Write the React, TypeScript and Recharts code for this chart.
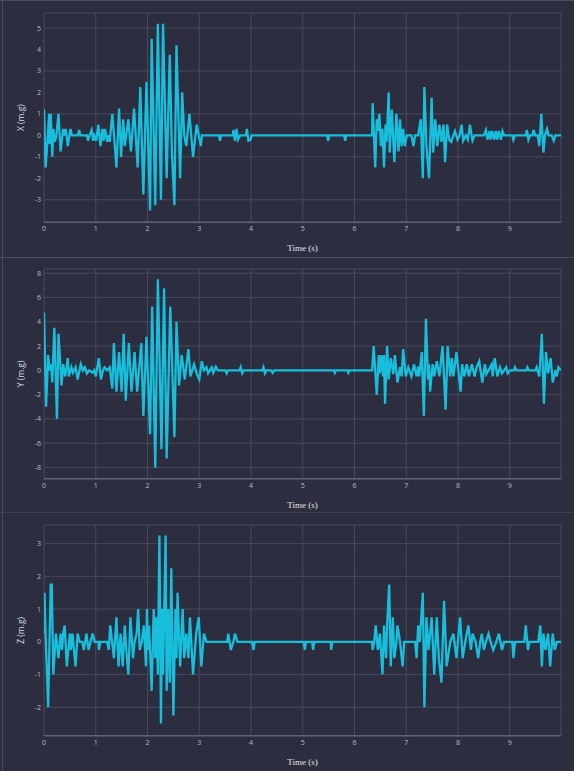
import { LineChart, Line, XAxis, YAxis, CartesianGrid } from "recharts";

const timeTicks = [0, 1, 2, 3, 4, 5, 6, 7, 8, 9];
const xTicks = [-3, -2, -1, 0, 1, 2, 3, 4, 5];
const yTicks = [-8, -6, -4, -2, 0, 2, 4, 6, 8];
const zTicks = [-2, -1, 0, 1, 2, 3];

// [time (s), acceleration (m.g)] vertices of each trace
const xAccel: [number, number][] = [
  [0, 1.2], [0.03, -1.5], [0.06, -0.5], [0.1, 1.0], [0.11, -0.4], [0.13, 1.0], [0.16, -1.0], [0.18, 0.3],
  [0.21, -0.3], [0.24, 0], [0.28, 1.0], [0.32, -0.75], [0.37, 0.3], [0.39, 0], [0.42, 0.3], [0.46, -0.5],
  [0.51, 0.3], [0.54, 0], [0.65, 0], [0.68, 0.25], [0.7, 0], [0.83, 0], [0.85, -0.25], [0.88, 0],
  [0.92, 0.25], [0.95, -0.25], [0.97, 0], [1.01, -0.25], [1.05, 0.5], [1.09, -0.5], [1.13, 0.3], [1.15, -0.25],
  [1.18, 0.3], [1.22, -0.3], [1.25, 0], [1.27, -0.3], [1.32, 1.0], [1.4, -1.5], [1.45, 1.25], [1.49, -1.0],
  [1.53, 0.75], [1.56, -0.5], [1.63, 0.75], [1.68, -0.75], [1.74, 1.25], [1.81, -1.5], [1.86, 2.25], [1.92, -2.75],
  [1.98, 2.5], [2.05, -3.5], [2.08, 4.5], [2.15, -3.25], [2.2, 5.2], [2.26, -3.0], [2.3, 5.2], [2.37, -2.0],
  [2.43, 3.75], [2.47, -0.7], [2.52, -3.25], [2.56, 4.2], [2.63, -2.0], [2.67, 2.0], [2.71, 0], [2.75, -0.5],
  [2.81, 1.0], [2.88, -1.0], [2.95, 0.5], [3.03, -0.5], [3.05, 0], [3.38, 0], [3.4, -0.25], [3.42, 0],
  [3.65, 0], [3.66, 0.25], [3.69, -0.25], [3.72, 0.3], [3.75, -0.2], [3.79, 0], [3.9, 0], [3.92, 0.3],
  [3.95, -0.25], [3.99, -0.2], [4.01, 0], [5.47, 0], [5.49, -0.25], [5.51, 0], [5.8, 0], [5.82, -0.25],
  [5.84, 0], [6.34, 0], [6.35, 1.5], [6.4, -1.5], [6.43, 0.75], [6.45, 0.2], [6.48, 1.0], [6.51, -0.5],
  [6.54, 0.3], [6.57, -1.5], [6.6, 0.5], [6.62, -0.3], [6.66, 2.0], [6.68, -0.8], [6.72, 1.2], [6.77, -1.25],
  [6.81, 1.0], [6.85, -0.75], [6.88, 0.75], [6.91, -0.5], [6.94, 0.3], [6.97, -0.5], [7.01, 0], [7.1, 0],
  [7.14, -0.5], [7.17, 0], [7.23, 0], [7.28, 0.75], [7.32, -2.0], [7.35, 2.25], [7.39, -0.5], [7.44, -2.0],
  [7.49, 1.75], [7.52, -0.8], [7.56, 0.75], [7.6, -0.5], [7.64, 0.5], [7.68, -0.3], [7.72, 0.5], [7.75, -1.25],
  [7.79, 0.5], [7.83, -0.2], [7.87, -0.3], [7.91, 0], [7.94, 0.2], [7.99, -0.2], [8.03, 0], [8.07, 0.5],
  [8.1, -0.25], [8.15, 0], [8.19, -0.2], [8.23, 0.5], [8.28, -0.25], [8.32, 0], [8.5, 0], [8.54, 0.25],
  [8.57, -0.2], [8.61, 0.2], [8.63, -0.2], [8.66, 0.2], [8.7, -0.2], [8.73, 0.2], [8.76, -0.2], [8.79, 0.2],
  [8.83, -0.2], [8.86, 0.2], [8.89, 0], [9.05, 0], [9.07, -0.2], [9.1, 0], [9.31, 0], [9.33, 0.25],
  [9.36, -0.2], [9.39, 0], [9.44, 0], [9.46, 0.25], [9.49, 0], [9.54, 0], [9.57, -0.5], [9.61, 1.0],
  [9.65, -0.8], [9.68, 0], [9.72, 0.3], [9.75, 0], [9.81, 0], [9.85, -0.25], [9.88, 0], [9.99, 0],
];

const yAccel: [number, number][] = [
  [0, 4.75], [0.04, -3.0], [0.08, 1.25], [0.11, 0], [0.14, 0.5], [0.16, -1.0], [0.2, 3.5], [0.25, -4.0],
  [0.28, 3.0], [0.34, -1.25], [0.37, 0.5], [0.41, -0.5], [0.46, 1.0], [0.48, -0.5], [0.53, 0.25], [0.56, -0.2],
  [0.61, 0.25], [0.65, -0.75], [0.71, 0.5], [0.75, 0], [0.79, 0.25], [0.83, -0.25], [0.87, 0], [0.94, -0.2],
  [0.97, 0], [1.0, -0.5], [1.06, 1.0], [1.1, -0.75], [1.14, 0], [1.17, 0.25], [1.22, 0], [1.27, 0.25],
  [1.32, -1.5], [1.35, 2.25], [1.4, -1.75], [1.45, 1.5], [1.5, -1.75], [1.54, 3.0], [1.58, -2.5], [1.64, 2.25],
  [1.69, -1.75], [1.75, 1.5], [1.8, -1.75], [1.88, 2.25], [1.92, -3.75], [1.98, 2.75], [2.05, -5.25], [2.09, 5.25],
  [2.15, -8.0], [2.2, 7.5], [2.27, -6.5], [2.32, 6.75], [2.37, -7.25], [2.44, 5.25], [2.52, -5.5], [2.56, 4.0],
  [2.61, -1.25], [2.66, 1.25], [2.72, -0.75], [2.79, 1.75], [2.83, -0.5], [2.9, 0.5], [2.95, -0.25], [3.0, -0.75],
  [3.05, 0.75], [3.09, 0], [3.14, 0.25], [3.17, -0.25], [3.24, 0.25], [3.27, -0.2], [3.32, 0.3], [3.36, 0],
  [3.5, 0], [3.53, -0.25], [3.55, 0], [3.78, 0], [3.8, 0.25], [3.83, -0.25], [3.86, 0], [4.22, 0],
  [4.24, 0.25], [4.27, -0.25], [4.3, 0], [4.39, 0], [4.42, -0.2], [4.45, 0], [5.6, 0], [5.62, -0.2],
  [5.64, 0], [5.86, 0], [5.88, -0.2], [5.9, 0], [6.34, 0], [6.37, 2.0], [6.43, -2.0], [6.47, 1.25],
  [6.49, -0.25], [6.52, 1.25], [6.55, -0.5], [6.57, 1.25], [6.59, -2.75], [6.63, 2.0], [6.66, -0.75], [6.7, 1.0],
  [6.75, -0.3], [6.78, 1.25], [6.83, -1.0], [6.88, 0.25], [6.91, -0.5], [6.94, 1.75], [6.99, -0.5], [7.04, 0.25],
  [7.1, -0.5], [7.15, 0.5], [7.2, -0.5], [7.23, 0.3], [7.25, -0.5], [7.3, 1.5], [7.34, -3.75], [7.38, 4.25],
  [7.42, -0.75], [7.44, 0.5], [7.46, -1.75], [7.51, 0.5], [7.54, -0.5], [7.59, 0.75], [7.64, -0.5], [7.7, 2.0],
  [7.76, -3.25], [7.8, 2.0], [7.85, -0.5], [7.88, 1.0], [7.91, -0.5], [7.97, 1.5], [8.05, -1.75], [8.08, 0.5],
  [8.12, -0.5], [8.17, 0.5], [8.21, -0.5], [8.27, 0.5], [8.32, -0.5], [8.36, 0.25], [8.41, 0.75], [8.47, -1.0],
  [8.52, 0.5], [8.55, -0.3], [8.59, 0], [8.65, 0.5], [8.67, -0.5], [8.71, 1.0], [8.76, -0.5], [8.81, 0.25],
  [8.85, -0.25], [8.89, 0], [8.93, 0.25], [8.96, -0.25], [9.01, 0], [9.08, 0], [9.1, 0.25], [9.13, 0],
  [9.32, 0], [9.34, 0.25], [9.37, 0], [9.5, 0], [9.52, 0.25], [9.57, -0.5], [9.62, 3.0], [9.66, -2.75],
  [9.7, 1.5], [9.74, -0.25], [9.79, 1.0], [9.83, -1.0], [9.88, 0], [9.91, -0.5], [9.94, 0.25], [9.99, 0],
];

const zAccel: [number, number][] = [
  [0, 0.25], [0.01, 1.5], [0.03, 0.25], [0.08, -2.0], [0.13, 1.75], [0.15, 1.75], [0.18, -1.0], [0.23, 0.25],
  [0.28, -0.5], [0.32, 0.25], [0.35, -0.25], [0.37, 0.25], [0.4, 0.5], [0.44, -0.75], [0.5, 0.25], [0.52, -0.25],
  [0.55, 0.25], [0.61, -0.75], [0.65, 0.25], [0.69, 0], [0.74, 0], [0.77, -0.25], [0.82, 0.25], [0.86, -0.25],
  [0.9, 0], [0.94, 0.25], [0.98, 0], [1.05, 0], [1.06, -0.25], [1.09, 0], [1.22, 0], [1.25, -0.25],
  [1.28, 0.5], [1.35, -0.5], [1.4, 0.75], [1.44, -0.75], [1.48, 0.25], [1.52, -0.75], [1.56, 0.5], [1.59, -0.25],
  [1.63, -1.0], [1.67, 0.75], [1.72, -0.5], [1.75, 0], [1.79, 0.25], [1.82, 1.0], [1.85, -0.25], [1.89, 0],
  [1.93, 0.5], [1.97, -0.75], [1.99, 1.0], [2.01, -0.25], [2.03, 0.5], [2.08, -1.5], [2.12, 1.0], [2.15, -0.5],
  [2.17, 0.75], [2.2, -1.0], [2.23, 3.25], [2.26, -2.5], [2.28, 1.0], [2.3, -1.0], [2.35, 3.25], [2.37, -1.5],
  [2.4, 1.0], [2.43, -1.25], [2.46, 2.25], [2.5, -2.25], [2.54, 1.0], [2.56, -0.5], [2.58, 1.5], [2.63, -0.75],
  [2.68, 1.0], [2.71, -0.5], [2.75, 0.25], [2.79, -0.5], [2.82, 0.75], [2.88, -1.0], [2.94, 0.25], [2.99, 0.75],
  [3.04, -0.75], [3.09, 0.25], [3.14, 0], [3.54, 0], [3.56, 0.25], [3.61, -0.25], [3.66, 0], [3.69, 0.25],
  [3.74, 0], [4.02, 0], [4.05, -0.25], [4.07, 0], [5.02, 0], [5.04, -0.25], [5.06, 0], [5.18, 0],
  [5.2, -0.25], [5.22, 0], [5.54, 0], [5.55, -0.25], [5.57, 0], [6.34, 0], [6.35, -0.25], [6.38, 0],
  [6.41, 0.5], [6.45, -0.25], [6.49, 0.25], [6.54, -1.0], [6.57, 0.5], [6.61, -0.5], [6.63, 0.5], [6.67, 1.75],
  [6.7, -0.75], [6.74, 0.75], [6.77, -0.5], [6.81, 0], [6.83, 0.5], [6.88, 0], [6.93, -0.75], [6.96, 0],
  [7.17, 0], [7.2, -0.5], [7.23, 0.5], [7.26, 0], [7.32, 1.5], [7.35, -2.0], [7.39, 0.75], [7.43, -0.25],
  [7.49, 0.75], [7.54, -1.0], [7.59, 0.75], [7.63, -0.5], [7.68, -1.25], [7.73, 1.25], [7.78, -0.75], [7.85, 0],
  [7.91, 0.25], [7.97, -0.5], [8.04, 0.75], [8.09, -0.5], [8.14, 0], [8.2, 0.5], [8.25, -0.25], [8.28, 0.25],
  [8.34, 0], [8.39, -0.5], [8.43, 0], [8.46, 0.25], [8.5, -0.25], [8.54, 0], [8.59, 0.25], [8.63, 0],
  [8.68, -0.25], [8.74, 0], [8.79, 0.25], [8.85, -0.25], [8.89, 0], [9.05, 0], [9.07, -0.5], [9.1, 0],
  [9.28, 0], [9.31, 0.5], [9.35, -0.25], [9.38, 0], [9.55, 0], [9.59, 0.5], [9.62, -0.75], [9.65, 0.25],
  [9.69, -0.25], [9.74, 0.25], [9.78, -0.75], [9.83, 0.25], [9.87, -0.25], [9.91, 0], [9.99, 0],
];

const BG = "#2c2e3f";
const GRID = "#464a5c";
const TICK = "#b9bbc6";
const LINE = "#17bfdc";

type PanelProps = {
  top: number;
  height: number;
  mTop: number;
  mBottom: number;
  points: [number, number][];
  domain: [number, number];
  ticks: number[];
  name: string;
};

function Panel({ top, height, mTop, mBottom, points, domain, ticks, name }: PanelProps) {
  const data = points.map(([t, v]) => ({ t, v }));
  const tickStyle = { fill: TICK, fontSize: 7, fontFamily: "Open Sans" };
  return (
    <div style={{ position: "absolute", left: 0, top }}>
      <LineChart width={574} height={height} data={data} margin={{ top: mTop, right: 13, bottom: mBottom, left: 0 }}>
        <CartesianGrid stroke={GRID} strokeWidth={1} />
        <XAxis
          dataKey="t"
          type="number"
          domain={[0, 9.99]}
          ticks={timeTicks}
          allowDataOverflow
          height={30}
          tickSize={0}
          tickMargin={4}
          tickLine={false}
          tick={tickStyle}
          axisLine={{ stroke: "#5e6275", strokeWidth: 1.5 }}
          label={{ value: "Time (s)", position: "insideBottom", offset: 1, fill: "#e4e4ea", fontSize: 9, fontFamily: "Liberation Serif" }}
        />
        <YAxis
          type="number"
          domain={domain}
          ticks={ticks}
          allowDataOverflow
          width={44}
          tickSize={0}
          tickMargin={3}
          tickLine={false}
          axisLine={false}
          tick={tickStyle}
          label={{ value: name, angle: -90, position: "center", dx: -1, fill: "#d8d9e0", fontSize: 8.5, fontFamily: "Open Sans" }}
        />
        <Line type="linear" dataKey="v" stroke={LINE} strokeWidth={2.3} dot={false} isAnimationActive={false} />
      </LineChart>
    </div>
  );
}

export default function App() {
  return (
    <div style={{ position: "absolute", left: 0, top: 0, width: 574, height: 771, background: BG, overflow: "hidden" }}>
      <div style={{ position: "absolute", left: 2, top: 0, width: 1, height: 771, background: "#4a4d5e" }} />
      <div style={{ position: "absolute", left: 0, top: 0, width: 574, height: 1, background: "#4a4d5e" }} />
      <div style={{ position: "absolute", left: 0, top: 257, width: 574, height: 1, background: "#4a4d5e" }} />
      <div style={{ position: "absolute", left: 0, top: 512, width: 574, height: 1, background: "#3e4152" }} />
      <Panel top={0} height={258} mTop={13} mBottom={5.7} points={xAccel} domain={[-4.05, 5.7]} ticks={xTicks} name="X (m.g)" />
      <Panel top={258} height={255} mTop={11} mBottom={4.3} points={yAccel} domain={[-8.92, 8.34]} ticks={yTicks} name="Y (m.g)" />
      <Panel top={513} height={258} mTop={12} mBottom={5.3} points={zAccel} domain={[-2.87, 3.57]} ticks={zTicks} name="Z (m.g)" />
    </div>
  );
}
